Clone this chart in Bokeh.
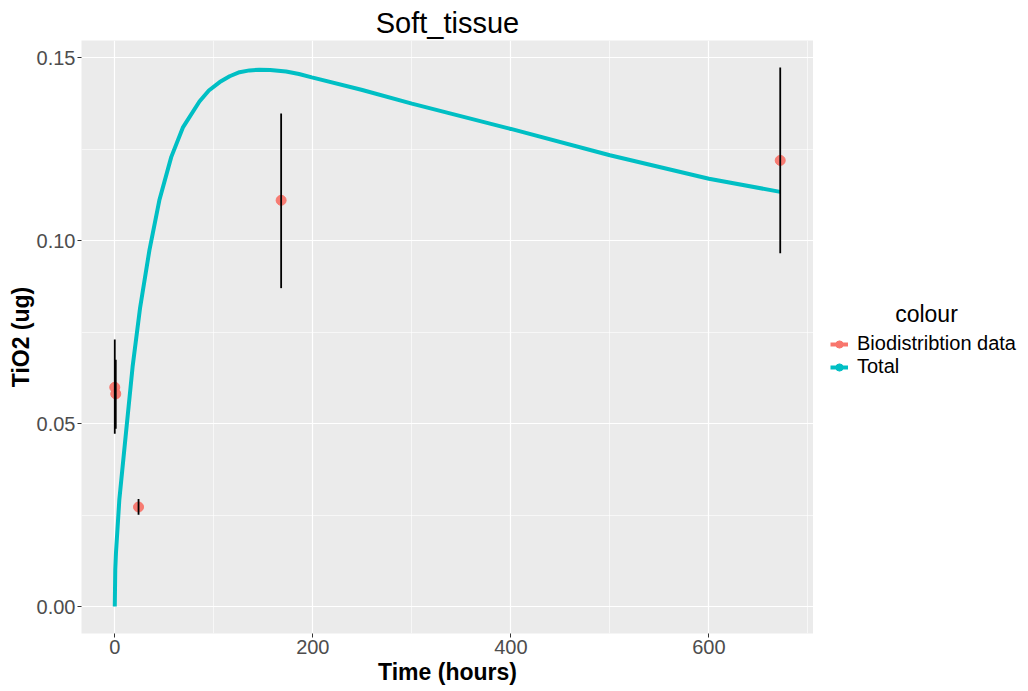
from bokeh.plotting import figure
from bokeh.layouts import row
from bokeh.models import (Range1d, FixedTicker, Legend, LegendItem, Label,
                          NumeralTickFormatter, ColumnDataSource)
from bokeh.embed import file_html
from bokeh.resources import INLINE

# ---- data ----
obs_time = [0, 1, 24, 168, 672]
obs_tio2 = [0.0599, 0.0581, 0.0272, 0.1110, 0.1219]
obs_low = [0.0472, 0.0486, 0.0251, 0.0870, 0.0965]
obs_high = [0.0730, 0.0674, 0.0294, 0.1347, 0.1473]

curve_time = [0, 0.5, 1.2, 4.6, 11.3, 18, 25.5, 35, 45, 57, 69, 85.5, 95,
              106, 116, 126, 136, 146, 157, 173, 186, 199, 249, 300, 400,
              500, 600, 672]
curve_tio2 = [0.0, 0.0101, 0.0146, 0.0292, 0.0474, 0.0655, 0.0815, 0.0974,
              0.1110, 0.1228, 0.1310, 0.1380, 0.1410, 0.1433, 0.1449, 0.1460,
              0.1465, 0.1467, 0.1466, 0.1462, 0.1455, 0.1446, 0.1412, 0.1374,
              0.1305, 0.1233, 0.1169, 0.1133]

x_ticks = [0, 200, 400, 600]
x_minor = [100, 300, 500, 700]
y_ticks = [0.0, 0.05, 0.10, 0.15]
y_minor = [0.025, 0.075, 0.125]

title_text = "Soft_tissue"
x_label = "Time (hours)"
y_label = "TiO2 (ug)"
legend_title = "colour"
series_names = ["Biodistribtion data", "Total"]

RED = "#F8766D"
CYAN = "#00BFC4"
FONT = "Liberation Sans"

# ggplot-like expanded ranges
all_x = obs_time + curve_time
all_y = obs_low + obs_high + curve_tio2
xspan = max(all_x) - min(all_x)
yspan = max(all_y) - min(all_y)
x_range = Range1d(min(all_x) - 0.05 * xspan, max(all_x) + 0.05 * xspan)
y_range = Range1d(min(all_y) - 0.05 * yspan, max(all_y) + 0.05 * yspan)

p = figure(width=813, height=691, x_range=x_range, y_range=y_range,
           output_backend="svg", toolbar_location=None,
           min_border_left=81, min_border_right=0,
           min_border_top=40, min_border_bottom=58)
p.background_fill_color = "#EBEBEB"
p.border_fill_color = "white"
p.outline_line_color = None

# title
p.title.text = title_text
p.title.align = "center"
p.title.text_font = FONT
p.title.text_font_size = "29px"
p.title.text_font_style = "normal"
p.title.text_color = "black"
p.title.standoff = 4

# axes
for ax in (p.xaxis[0], p.yaxis[0]):
    ax.axis_line_color = None
    ax.major_tick_line_color = "#333333"
    ax.major_tick_out = 4
    ax.major_tick_in = 0
    ax.minor_tick_line_color = None
    ax.major_label_text_font = FONT
    ax.major_label_text_font_size = "20px"
    ax.major_label_text_color = "#4D4D4D"
    ax.axis_label_text_font = FONT
    ax.axis_label_text_font_size = "23px"
    ax.axis_label_text_font_style = "bold"
    ax.axis_label_text_color = "black"
    ax.major_label_standoff = 2

p.xaxis.ticker = FixedTicker(ticks=x_ticks, minor_ticks=x_minor)
p.yaxis.ticker = FixedTicker(ticks=y_ticks, minor_ticks=y_minor)
p.yaxis.formatter = NumeralTickFormatter(format="0.00")
p.xaxis.axis_label = x_label
p.yaxis.axis_label = y_label
p.xaxis.axis_label_standoff = 2
p.yaxis.axis_label_standoff = 0

for g in (p.xgrid[0], p.ygrid[0]):
    g.grid_line_color = "white"
    g.grid_line_width = 1.2
    g.minor_grid_line_color = "white"
    g.minor_grid_line_width = 0.6

# glyphs
curve_src = ColumnDataSource(dict(t=curve_time, y=curve_tio2))
obs_src = ColumnDataSource(dict(t=obs_time, y=obs_tio2, lo=obs_low, hi=obs_high))

p.line("t", "y", source=curve_src, line_color=CYAN, line_width=4)
p.scatter("t", "y", source=obs_src, size=10, fill_color=RED,
          line_color=RED, fill_alpha=0.95, line_alpha=0.95)
p.segment(x0="t", y0="lo", x1="t", y1="hi", source=obs_src,
          line_color="black", line_width=1.8)

# ---- legend panel (separate blank figure to the right) ----
q = figure(width=215, height=691, x_range=Range1d(0, 215), y_range=Range1d(0, 691),
           output_backend="svg", toolbar_location=None,
           min_border_left=0, min_border_right=0, min_border_top=0, min_border_bottom=0)
q.axis.visible = False
q.grid.visible = False
q.outline_line_color = None
q.background_fill_color = "white"
q.border_fill_color = "white"

# off-screen key sources (only used to draw the legend keys)
key_src = ColumnDataSource(dict(t=[-1000, -999], y=[-1000, -1000]))
r_line = q.line("t", "y", source=key_src, line_color=RED, line_width=4)
r_pt = q.scatter("t", "y", source=key_src, size=10, fill_color=RED, line_color=RED)
c_line = q.line("t", "y", source=key_src, line_color=CYAN, line_width=4)
c_pt = q.scatter("t", "y", source=key_src, size=10, fill_color=CYAN, line_color=CYAN)

legend = Legend(items=[
    LegendItem(label=series_names[0], renderers=[r_line, r_pt]),
    LegendItem(label=series_names[1], renderers=[c_line, c_pt]),
], location=(17, 255))
legend.label_text_font = FONT
legend.label_text_font_size = "20px"
legend.label_text_color = "black"
legend.glyph_width = 18
legend.glyph_height = 18
legend.label_height = 18
legend.spacing = -7
legend.padding = 0
legend.margin = 0
legend.label_standoff = 9
legend.border_line_color = None
legend.background_fill_alpha = 0
q.add_layout(legend, "center")

title_lbl = Label(x=113, y=320, x_units="screen", y_units="screen",
                  text=legend_title, text_font=FONT, text_font_size="23px",
                  text_align="center", text_baseline="middle", text_color="black")
q.add_layout(title_lbl)

layout = row(p, q, spacing=0)
open("out.html", "w").write(file_html(layout, INLINE))
